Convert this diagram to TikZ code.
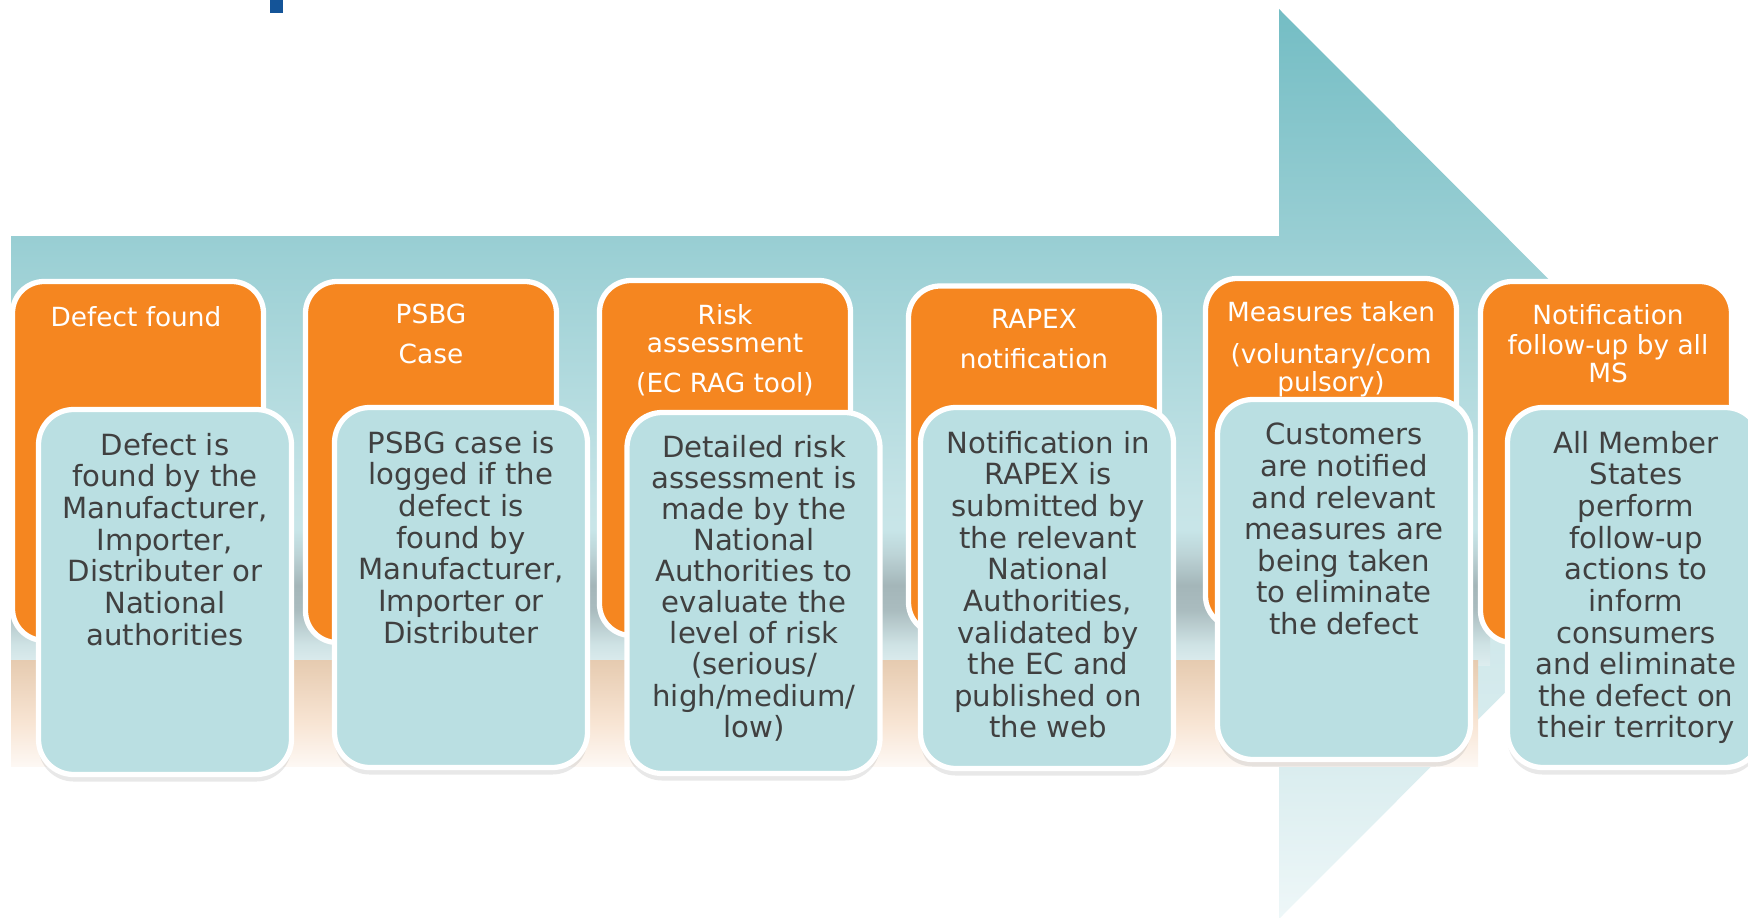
\documentclass[tikz,border=0pt]{standalone}
\usepackage{fontspec}
\setmainfont{DejaVu Sans}
\usetikzlibrary{shadows}
\definecolor{headorange}{RGB}{245,134,32}
\definecolor{stepteal}{RGB}{186,223,226}
\definecolor{bodytext}{RGB}{64,64,64}
\definecolor{markblue}{RGB}{20,84,152}
\definecolor{arrowA}{RGB}{116,189,196}
\definecolor{arrowB}{RGB}{152,206,211}
\definecolor{arrowC}{RGB}{198,228,231}
\definecolor{arrowD}{RGB}{218,237,239}
\definecolor{arrowE}{RGB}{238,247,248}
\definecolor{bandA}{RGB}{221,237,239}
\definecolor{bandB}{RGB}{207,227,229}
\definecolor{bandC}{RGB}{170,188,191}
\definecolor{bandD}{RGB}{164,182,185}
\definecolor{bandE}{RGB}{188,211,214}
\definecolor{bandF}{RGB}{199,229,232}
\definecolor{glowA}{RGB}{253,248,244}
\definecolor{glowB}{RGB}{248,229,212}
\definecolor{glowC}{RGB}{230,203,176}
\pgfdeclareverticalshading{arrowfill}{100bp}{color(0bp)=(arrowE); color(25bp)=(arrowE); color(33.35bp)=(arrowD); color(48bp)=(arrowC); color(62.5bp)=(arrowB); color(75bp)=(arrowA); color(100bp)=(arrowA)}
\pgfdeclareverticalshading{greyband}{100bp}{color(0bp)=(bandA); color(25bp)=(bandA); color(32.4bp)=(bandB); color(45.4bp)=(bandC); color(54.6bp)=(bandD); color(65.7bp)=(bandE); color(75bp)=(bandF); color(100bp)=(bandF)}
\pgfdeclareverticalshading{glowfill}{100bp}{color(0bp)=(glowA); color(25bp)=(glowA); color(45bp)=(glowB); color(75bp)=(glowC); color(100bp)=(glowC)}

\begin{document}
\begin{tikzpicture}[
    headbox/.style={draw=white, line width=1.5pt, fill=headorange, rounded corners=9pt, minimum width=2.51cm, inner sep=0pt},
    infobox/.style={draw=white, line width=1.5pt, fill=stepteal, rounded corners=10pt, minimum width=2.53cm, minimum height=3.61cm, inner sep=0pt, drop shadow={shadow xshift=0pt, shadow yshift=-2pt, opacity=0.18}},
    headtext/.style={anchor=north, align=center, inner sep=0pt, text=white, font=\fontsize{7.5}{8}\selectfont, execute at begin node={\rule{0pt}{6.5pt}}},
    infotext/.style={anchor=north, align=center, inner sep=0pt, text=bodytext, font=\fontsize{8.3}{9}\selectfont, execute at begin node={\rule{0pt}{7pt}}}
]
    \useasboundingbox (0,0) rectangle (17.48,9.17);

    % big arrow behind the steps
    \shade[shading=arrowfill] (0.11,6.81) -- (12.79,6.81) -- (12.79,9.08) -- (17.33,4.53) -- (12.79,-0.02) -- (12.79,2.25) -- (0.11,2.25) -- cycle;
    \shade[shading=greyband] (0.11,2.52) rectangle (14.9,3.87);
    \shade[shading=glowfill] (0.11,1.51) rectangle (14.78,2.57);
    \fill[markblue] (2.70,9.04) rectangle (2.83,9.17);

    \node[headbox, minimum height=3.59cm] (foundbox) at (1.38,4.56) {};
    \node[headtext] (foundtitle) at (1.36,6.1435) {Defect found};
    \node[infobox, minimum height=3.65cm] (foundinfo) at (1.65,3.25) {};
    \node[infotext] (foundtext) at (1.65,4.846) {Defect is\\found by the\\Manufacturer,\\Importer,\\Distributer or\\National\\authorities};

    \node[headbox, minimum height=3.61cm] (casebox) at (4.31,4.55) {};
    \node[headtext] (casetitle) at (4.31,6.1335) {PSBG\\[3.4pt]Case};
    \node[infobox, minimum height=3.60cm] (caseinfo) at (4.61,3.295) {};
    \node[infotext] (casetext) at (4.61,4.866) {PSBG case is\\logged if the\\defect is\\found by\\Manufacturer,\\Importer or\\Distributer};

    \node[headbox, minimum height=3.55cm] (riskbox) at (7.25,4.59) {};
    \node[headtext] (risktitle) at (7.25,6.1335) {Risk\\assessment\\[3.4pt](EC RAG tool)};
    \node[infobox] (riskinfo) at (7.535,3.24) {};
    \node[infotext, font=\fontsize{8.3}{8.85}\selectfont] (risktext) at (7.54,4.826) {Detailed risk\\assessment is\\made by the\\National\\Authorities to\\evaluate the\\level of risk\\(serious/\\high/medium/\\low)};

    \node[headbox, minimum height=3.48cm] (rapexbox) at (10.34,4.57) {};
    \node[headtext] (rapextitle) at (10.34,6.0835) {RAPEX\\[3.4pt]notification};
    \node[infobox] (rapexinfo) at (10.47,3.29) {};
    \node[infotext] (rapextext) at (10.48,4.866) {Notification in\\RAPEX is\\submitted by\\the relevant\\National\\Authorities,\\validated by\\the EC and\\published on\\the web};

    \node[headbox, minimum height=3.49cm] (measurebox) at (13.31,4.64) {};
    \node[headtext] (measuretitle) at (13.31,6.1635) {Measures taken\\[4pt](voluntary/com\\pulsory)};
    \node[infobox, minimum height=3.60cm] (measureinfo) at (13.44,3.375) {};
    \node[infotext] (measuretext) at (13.44,4.946) {Customers\\are notified\\and relevant\\measures are\\being taken\\to eliminate\\the defect};

    \node[headbox, minimum height=3.61cm] (followbox) at (16.06,4.55) {};
    \node[headtext] (followtitle) at (16.08,6.1335) {Notification\\[0.6pt]follow-up by all\\MS};
    \node[infobox, minimum height=3.60cm] (followinfo) at (16.34,3.295) {};
    \node[infotext] (followtext) at (16.36,4.866) {All Member\\States\\perform\\follow-up\\actions to\\inform\\consumers\\and eliminate\\the defect on\\their territory};
\end{tikzpicture}
\end{document}
